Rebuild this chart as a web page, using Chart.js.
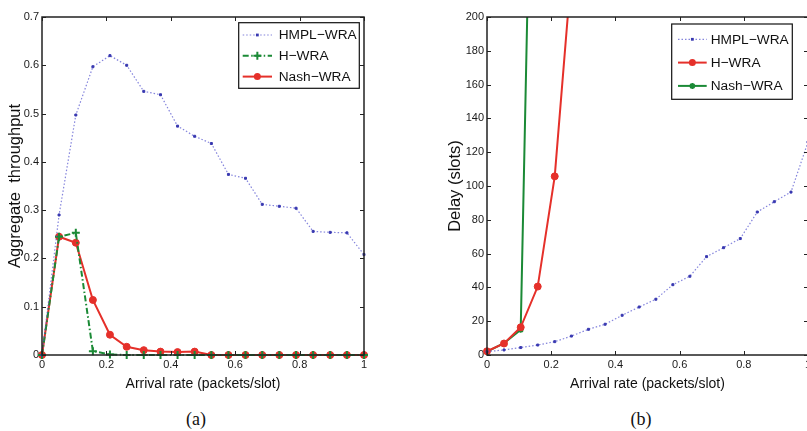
<!DOCTYPE html>
<html>
<head>
<meta charset="utf-8">
<script src="https://cdn.jsdelivr.net/npm/chart.js@4.4.1/dist/chart.umd.min.js"></script>
<style>
  html, body { margin: 0; padding: 0; background: #fff; }
  body { width: 807px; height: 431px; overflow: hidden; position: relative; }
  canvas { position: absolute; top: 0; }
  #chartA { left: 0; }
  #chartB { left: 410px; }
  .cap { position: absolute; top: 409px; width: 60px; text-align: center;
         font: 18px 'Liberation Serif', 'Times New Roman', serif; color: #111; }
</style>
</head>
<body>
<canvas id="chartA" width="400" height="400"></canvas>
<canvas id="chartB" width="420" height="400"></canvas>
<div class="cap" style="left:166px">(a)</div>
<div class="cap" style="left:611px">(b)</div>
<script>
// Arrival rates shared by both panels (packets/slot)
const arrivalRate = [0, 0.053, 0.105, 0.158, 0.211, 0.263, 0.316, 0.368, 0.421, 0.474,
                     0.526, 0.579, 0.632, 0.684, 0.737, 0.789, 0.842, 0.895, 0.947, 1];

// (a) aggregate throughput
const thrHMPL = [0, 0.29, 0.497, 0.597, 0.62, 0.60, 0.546, 0.539, 0.474, 0.453,
                 0.438, 0.374, 0.366, 0.312, 0.308, 0.304, 0.256, 0.254, 0.253, 0.208];
const thrH    = [0, 0.245, 0.253, 0.008, 0.001, 0, 0, 0, 0, 0,
                 0, 0, 0, 0, 0, 0, 0, 0, 0, 0];
const thrNash = [0, 0.245, 0.2325, 0.114, 0.042, 0.017, 0.010, 0.007, 0.006, 0.007,
                 0, 0, 0, 0, 0, 0, 0, 0, 0, 0];

// (b) delay (slots)
const delayHMPL = [2, 3.0, 4.4, 5.9, 7.9, 11.2, 15.2, 18.2, 23.5, 28.4,
                   33, 41.6, 46.6, 58.2, 63.5, 68.9, 84.6, 90.7, 96.4, 126];
const delayH    = [2.2, 6.8, 16.4, 40.5, 105.7, 227];
const delayNash = [2, 7, 15, 500];

// Tick values
const rateTicks       = [0, 0.2, 0.4, 0.6, 0.8, 1];
const throughputTicks = [0, 0.1, 0.2, 0.3, 0.4, 0.5, 0.6, 0.7];
const delayTicks      = [0, 20, 40, 60, 80, 100, 120, 140, 160, 180, 200];

const SANS = "'Liberation Sans', Arial, Helvetica, sans-serif";
const BLUE = 'rgba(80, 80, 205, 0.7)';
const BLUE_PT = '#3838b0';
const GREEN = '#1b8a36';
const RED = '#e5302a';

function points(vals) {
  return vals.map((v, i) => ({ x: arrivalRate[i], y: v }));
}

function drawMarker(ctx, style, x, y, r, color, bw) {
  ctx.save();
  ctx.setLineDash([]);
  ctx.fillStyle = color;
  ctx.strokeStyle = color;
  ctx.lineWidth = bw;
  ctx.beginPath();
  if (style === 'circle') {
    ctx.arc(x, y, r, 0, Math.PI * 2);
    ctx.fill();
  } else if (style === 'rect') {
    ctx.rect(x - r, y - r, 2 * r, 2 * r);
    ctx.fill();
  } else if (style === 'cross') {
    ctx.moveTo(x - r, y); ctx.lineTo(x + r, y);
    ctx.moveTo(x, y - r); ctx.lineTo(x, y + r);
    ctx.stroke();
  } else if (style === 'star') {
    const d = r * 0.707;
    ctx.moveTo(x - r, y); ctx.lineTo(x + r, y);
    ctx.moveTo(x, y - r); ctx.lineTo(x, y + r);
    ctx.moveTo(x - d, y - d); ctx.lineTo(x + d, y + d);
    ctx.moveTo(x - d, y + d); ctx.lineTo(x + d, y - d);
    ctx.stroke();
  }
  ctx.restore();
}

// Boxed axes with inward ticks on all four sides, plus an in-plot legend
const boxedAxes = {
  id: 'boxedAxes',
  afterDatasetsDraw(chart, args, opts) {
    const { ctx, chartArea: a, scales: { x, y } } = chart;
    const L = 4;
    ctx.save();
    ctx.strokeStyle = '#222';
    ctx.lineWidth = 1;
    ctx.beginPath();
    x.ticks.forEach(t => {
      const px = Math.round(x.getPixelForValue(t.value)) + 0.5;
      ctx.moveTo(px, a.bottom); ctx.lineTo(px, a.bottom - L);
      ctx.moveTo(px, a.top); ctx.lineTo(px, a.top + L);
    });
    y.ticks.forEach(t => {
      const py = Math.round(y.getPixelForValue(t.value)) + 0.5;
      ctx.moveTo(a.left, py); ctx.lineTo(a.left + L, py);
      ctx.moveTo(a.right, py); ctx.lineTo(a.right - L, py);
    });
    ctx.stroke();
    ctx.lineWidth = 1.5;
    ctx.strokeRect(a.left, a.top, a.right - a.left, a.bottom - a.top);

    // legend box
    const lg = opts.legend;
    const bx = a.right - lg.right - lg.width;
    const by = a.top + lg.top;
    ctx.fillStyle = '#fff';
    ctx.fillRect(bx, by, lg.width, lg.height);
    ctx.lineWidth = 1.2;
    ctx.strokeStyle = '#111';
    ctx.strokeRect(bx, by, lg.width, lg.height);
    chart.data.datasets.forEach((ds, i) => {
      const ry = by + lg.firstRow + i * lg.rowGap;
      const x0 = bx + lg.lineStart, x1 = bx + lg.lineEnd;
      ctx.save();
      ctx.strokeStyle = ds.borderColor;
      ctx.lineWidth = ds.borderWidth;
      ctx.setLineDash(ds.borderDash || []);
      ctx.beginPath();
      ctx.moveTo(x0, ry); ctx.lineTo(x1, ry);
      ctx.stroke();
      ctx.restore();
      drawMarker(ctx, ds.pointStyle, (x0 + x1) / 2, ry, ds.pointRadius,
                 ds.pointBorderColor, ds.pointBorderWidth);
      ctx.fillStyle = '#111';
      ctx.font = '13.7px ' + SANS;
      ctx.textBaseline = 'middle';
      ctx.textAlign = 'left';
      ctx.fillText(ds.label, bx + lg.textStart, ry + 0.5);
    });
    ctx.restore();
  }
};

function axisOptions(tickValues, fixed, title, titleFont, titlePad) {
  return {
    type: 'linear',
    min: tickValues[0],
    max: tickValues[tickValues.length - 1],
    grid: { display: false, drawTicks: false },
    border: { display: false },
    afterBuildTicks: axis => { axis.ticks = tickValues.map(v => ({ value: v })); },
    afterFit: axis => { Object.assign(axis, fixed); },
    ticks: {
      autoSkip: false,
      maxRotation: 0,
      padding: 3,
      color: '#1a1a1a',
      font: { family: SANS, size: 11 },
      callback: v => String(v)
    },
    title: {
      display: true,
      text: title,
      color: '#111',
      font: titleFont,
      padding: titlePad
    }
  };
}

function baseOptions(xAxis, yAxis, padRight, legend) {
  return {
    responsive: false,
    animation: false,
    devicePixelRatio: 1,
    layout: { padding: { left: 0, top: 17, right: padRight, bottom: 0 } },
    elements: { line: { tension: 0 } },
    scales: { x: xAxis, y: yAxis },
    plugins: {
      legend: { display: false },
      tooltip: { enabled: false },
      boxedAxes: { legend }
    }
  };
}

const blueSeries = (label, vals, clip) => ({
  label, data: points(vals), clip,
  borderColor: BLUE, borderWidth: 1.2, borderDash: [1.5, 2],
  pointStyle: 'rect', pointRadius: 1.4, pointBorderWidth: 1,
  pointBackgroundColor: BLUE_PT, pointBorderColor: BLUE_PT
});

const xTitleFont = { family: SANS, size: 14 };
const xTitlePad = { top: 4, bottom: 7.6 };

// (a) Aggregate throughput
new Chart(document.getElementById('chartA'), {
  type: 'line',
  data: {
    datasets: [
      blueSeries('HMPL\u2212WRA', thrHMPL, false),
      {
        label: 'H\u2212WRA', data: points(thrH), clip: false,
        borderColor: GREEN, borderWidth: 2, borderDash: [6, 2.5, 1.5, 2.5],
        pointStyle: 'cross', pointRadius: 4, pointBorderWidth: 2,
        pointBackgroundColor: GREEN, pointBorderColor: GREEN
      },
      {
        label: 'Nash\u2212WRA', data: points(thrNash), clip: false,
        borderColor: RED, borderWidth: 2,
        pointStyle: 'circle', pointRadius: 3.5, pointBorderWidth: 1,
        pointBackgroundColor: RED, pointBorderColor: RED
      }
    ]
  },
  options: baseOptions(
    axisOptions(rateTicks, { height: 45 }, 'Arrival rate (packets/slot)', xTitleFont, xTitlePad),
    axisOptions(throughputTicks, { width: 42 }, 'Aggregate  throughput',
                { family: SANS, size: 16.5 }, { top: 6, bottom: 0 }),
    36,
    { right: 4.7, top: 5.7, width: 120.6, height: 65.6,
      firstRow: 12.3, rowGap: 20.8, lineStart: 4, lineEnd: 33.3, textStart: 40 }
  ),
  plugins: [boxedAxes]
});

// (b) Delay
const clipB = { left: 6, right: 6, bottom: 6, top: 0 };
new Chart(document.getElementById('chartB'), {
  type: 'line',
  data: {
    datasets: [
      blueSeries('HMPL\u2212WRA', delayHMPL, clipB),
      {
        label: 'H\u2212WRA', data: points(delayH), clip: clipB,
        borderColor: RED, borderWidth: 2,
        pointStyle: 'circle', pointRadius: 3.5, pointBorderWidth: 1,
        pointBackgroundColor: RED, pointBorderColor: RED
      },
      {
        label: 'Nash\u2212WRA', data: points(delayNash), clip: clipB,
        borderColor: GREEN, borderWidth: 2,
        pointStyle: 'star', pointRadius: 3, pointBorderWidth: 1.8,
        pointBackgroundColor: GREEN, pointBorderColor: GREEN
      }
    ]
  },
  options: baseOptions(
    axisOptions(rateTicks, { height: 45 }, 'Arrival rate (packets/slot)', xTitleFont, xTitlePad),
    axisOptions(delayTicks, { width: 77 }, 'Delay (slots)',
                { family: SANS, size: 16.5 }, { top: 36, bottom: 0 }),
    22,
    { right: 15.7, top: 7, width: 120.6, height: 75.3,
      firstRow: 15.3, rowGap: 23.3, lineStart: 6.3, lineEnd: 35, textStart: 39 }
  ),
  plugins: [boxedAxes]
});
</script>
</body>
</html>
